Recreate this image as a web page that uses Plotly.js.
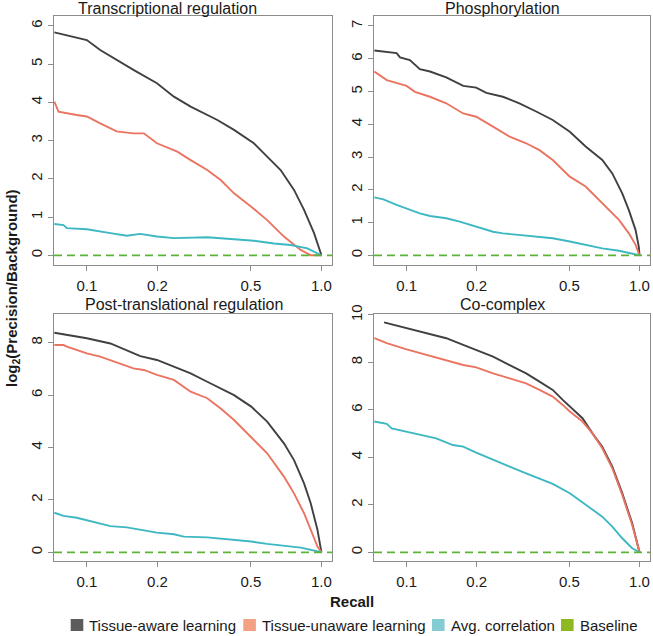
<!DOCTYPE html>
<html>
<head>
<meta charset="utf-8">
<script src="https://cdn.plot.ly/plotly-3.0.1.min.js"></script>
<style>html,body{margin:0;padding:0;background:#fff;}#chart{width:653px;height:636px;}</style>
</head>
<body>
<div id="chart"></div>
<script>
// ---------- DATA ----------
const panelTitles = ["Transcriptional regulation", "Phosphorylation", "Post-translational regulation", "Co-complex"];
const seriesNames = ["Tissue-aware learning", "Tissue-unaware learning", "Avg. correlation", "Baseline"];
const xTickVals = [0.1, 0.2, 0.5, 1];
const xTickText = ["0.1", "0.2", "0.5", "1.0"];
const baselineValue = 0;

// Transcriptional regulation
const trAwareX   = [0.0727,0.1,0.114,0.134,0.158,0.199,0.235,0.277,0.360,0.424,0.515,0.587,0.670,0.764,0.843,0.930,1.0];
const trAwareY   = [5.83,5.63,5.37,5.11,4.85,4.50,4.15,3.89,3.54,3.28,2.93,2.58,2.23,1.71,1.19,0.58,0];
const trUnawareX = [0.0727,0.0757,0.0906,0.1,0.114,0.134,0.158,0.175,0.199,0.243,0.277,0.326,0.372,0.424,0.502,0.587,0.692,0.816,0.900,1.0];
const trUnawareY = [4.02,3.76,3.67,3.63,3.45,3.24,3.19,3.19,2.93,2.71,2.49,2.23,1.97,1.62,1.27,0.92,0.49,0.14,0,0];
const trCorrX    = [0.0727,0.0795,0.0822,0.1,0.126,0.148,0.169,0.199,0.235,0.286,0.326,0.424,0.515,0.628,0.739,0.871,1.0];
const trCorrY    = [0.82,0.79,0.71,0.68,0.58,0.51,0.56,0.49,0.45,0.47,0.47,0.42,0.38,0.31,0.27,0.18,0];

// Phosphorylation
const phAwareX   = [0.0727,0.0906,0.0937,0.1033,0.114,0.126,0.148,0.175,0.199,0.220,0.259,0.305,0.360,0.424,0.502,0.587,0.692,0.764,0.843,0.900,0.962,0.993,1.0];
const phAwareY   = [6.25,6.17,6.04,5.96,5.68,5.61,5.43,5.17,5.12,4.96,4.84,4.64,4.39,4.13,3.77,3.32,2.91,2.50,1.89,1.38,0.77,0.26,0];
const phUnawareX = [0.0727,0.0822,0.1,0.1086,0.126,0.148,0.175,0.199,0.235,0.277,0.326,0.372,0.424,0.502,0.587,0.692,0.816,0.900,0.962,1.0];
const phUnawareY = [5.61,5.35,5.17,4.99,4.84,4.64,4.33,4.23,3.93,3.62,3.42,3.21,2.91,2.40,2.10,1.59,1.08,0.67,0.32,0];
const phCorrX    = [0.0727,0.0795,0.0906,0.1,0.114,0.126,0.148,0.169,0.199,0.235,0.259,0.305,0.360,0.424,0.502,0.587,0.692,0.816,1.0];
const phCorrY    = [1.77,1.71,1.54,1.43,1.28,1.20,1.13,1.03,0.87,0.72,0.67,0.62,0.57,0.52,0.42,0.32,0.21,0.14,0];

// Post-translational regulation
const ptAwareX   = [0.0727,0.0822,0.1,0.126,0.148,0.169,0.199,0.235,0.277,0.326,0.372,0.424,0.502,0.587,0.692,0.764,0.843,0.900,0.962,1.0];
const ptAwareY   = [8.38,8.29,8.17,7.97,7.72,7.49,7.34,7.08,6.83,6.51,6.26,6.00,5.56,4.99,4.16,3.52,2.63,1.87,0.85,0];
const ptUnawareX = [0.0727,0.0795,0.0822,0.1,0.114,0.134,0.158,0.175,0.199,0.235,0.277,0.326,0.372,0.424,0.502,0.587,0.692,0.764,0.843,0.900,0.962,1.0];
const ptUnawareY = [7.91,7.91,7.85,7.59,7.47,7.24,7.02,6.96,6.77,6.58,6.13,5.88,5.49,5.05,4.41,3.78,2.89,2.25,1.49,0.85,0.22,0];
const ptCorrX    = [0.0727,0.0795,0.0906,0.1,0.114,0.126,0.148,0.175,0.199,0.235,0.259,0.326,0.424,0.502,0.587,0.692,0.816,1.0];
const ptCorrY    = [1.51,1.39,1.32,1.23,1.11,1.00,0.95,0.83,0.75,0.69,0.60,0.57,0.47,0.41,0.32,0.24,0.18,0];

// Co-complex
const ccAwareX   = [0.080,0.1,0.126,0.148,0.175,0.199,0.235,0.277,0.326,0.372,0.424,0.468,0.502,0.569,0.628,0.692,0.764,0.843,0.930,1.0];
const ccAwareY   = [9.69,9.44,9.20,9.02,8.74,8.53,8.24,7.89,7.54,7.19,6.84,6.42,6.14,5.65,5.01,4.45,3.61,2.49,1.22,0];
const ccUnawareX = [0.0727,0.0822,0.1,0.126,0.148,0.175,0.199,0.235,0.277,0.326,0.372,0.424,0.468,0.502,0.569,0.628,0.692,0.764,0.843,0.930,1.0];
const ccUnawareY = [9.02,8.81,8.55,8.27,8.10,7.89,7.79,7.54,7.33,7.12,6.84,6.56,6.21,5.93,5.51,5.01,4.38,3.54,2.42,1.15,0];
const ccCorrX    = [0.0727,0.0822,0.0863,0.1,0.114,0.134,0.158,0.175,0.199,0.235,0.277,0.326,0.372,0.424,0.502,0.587,0.692,0.764,0.843,0.930,1.0];
const ccCorrY    = [5.51,5.41,5.22,5.08,4.94,4.80,4.52,4.45,4.20,3.92,3.61,3.33,3.12,2.88,2.49,1.99,1.50,1.08,0.59,0.17,0];

// ---------- STYLE ----------
const lineColors = ["#404040", "#EB7461", "#3DB8C2", "#5DB338"];
const swatchColors = ["#5c5c5c", "#F4A183", "#84CBD3", "#8DB81F"];
const FONT = "'Liberation Sans', Arial, Helvetica, sans-serif";
const frameColor = "#8c8c8c";

const panels = [
  {x:[trAwareX,trUnawareX,trCorrX], y:[trAwareY,trUnawareY,trCorrY], yr:[-0.254,6.26], dt:1},
  {x:[phAwareX,phUnawareX,phCorrX], y:[phAwareY,phUnawareY,phCorrY], yr:[-0.296,7.305], dt:1},
  {x:[ptAwareX,ptUnawareX,ptCorrX], y:[ptAwareY,ptUnawareY,ptCorrY], yr:[-0.332,9.095], dt:2},
  {x:[ccAwareX,ccUnawareX,ccCorrX], y:[ccAwareY,ccUnawareY,ccCorrY], yr:[-0.367,10.04], dt:2}
];
const W = 653, H = 636;
const xDom = [[54/W, 332/W], [374/W, 650/W]];
const yDom = [[1-265/H, 1-16/H], [1-561/H, 1-314/H]];

const traces = [];
const layout = {
  width: W, height: H,
  margin: {l:0, r:0, t:0, b:0},
  paper_bgcolor: "#fff", plot_bgcolor: "#fff",
  showlegend: false,
  font: {family: FONT, color: "#1a1a1a"},
  shapes: [], annotations: []
};

panels.forEach((p, i) => {
  const n = i === 0 ? "" : String(i + 1);
  const xa = "x" + n, ya = "y" + n;
  for (let s = 0; s < 3; s++) {
    traces.push({
      type: "scatter", mode: "lines", x: p.x[s], y: p.y[s],
      xaxis: xa, yaxis: ya, name: seriesNames[s],
      line: {color: lineColors[s], width: 1.9}, hoverinfo: "skip"
    });
  }
  const col = i % 2, row = Math.floor(i / 2);
  const common = {
    showline: true, mirror: true, linecolor: frameColor, linewidth: 1,
    ticks: "outside", ticklen: 5, tickcolor: frameColor, tickwidth: 1,
    showgrid: false, zeroline: false,
    tickfont: {size: 15, color: "#1a1a1a", family: FONT}
  };
  layout["xaxis" + n] = Object.assign({}, common, {
    type: "log", range: [-1.14, 0.045], domain: xDom[col], anchor: ya,
    tickmode: "array", tickvals: xTickVals, ticktext: xTickText,
    ticklabelstandoff: 2
  });
  const yt = [];
  for (let v = 0; v <= p.yr[1]; v += p.dt) yt.push(v);
  layout["yaxis" + n] = Object.assign({}, common, {
    range: p.yr, domain: yDom[row], anchor: xa,
    tickmode: "array", tickvals: yt, ticktext: yt.map(String), tickangle: -90
  });
  layout.shapes.push({
    type: "line", xref: xa + " domain", x0: 0, x1: 1, yref: ya, y0: baselineValue, y1: baselineValue,
    line: {color: lineColors[3], width: 1.8, dash: "8px,5px"}
  });
});

// panel titles
const titlePos = [[167, 8.5], [502.5, 8.5], [183.5, 304], [502.5, 304]];
panelTitles.forEach((t, i) => {
  layout.annotations.push({
    text: t, xref: "paper", yref: "paper", x: titlePos[i][0]/W, y: 1 - titlePos[i][1]/H,
    xanchor: "center", yanchor: "middle", showarrow: false,
    font: {size: 16, family: FONT, color: "#1a1a1a"}
  });
});
// axis titles
layout.annotations.push({
  text: "<b>Recall</b>", xref: "paper", yref: "paper", x: 352/W, y: 1 - 601/H,
  xanchor: "center", yanchor: "middle", showarrow: false, font: {size: 15, family: FONT, color: "#1a1a1a"}
});
layout.annotations.push({
  text: "<b>log<sub>2</sub>(Precision/Background)</b>", xref: "paper", yref: "paper", x: 12.5/W, y: 1 - 288.5/H,
  xanchor: "center", yanchor: "middle", textangle: -90, showarrow: false,
  font: {size: 15, family: FONT, color: "#1a1a1a"}
});
// legend (swatches + labels)
const legSwatchX = [70.7, 243.3, 432, 561];
const legTextX = [86.7, 260, 449, 578];
for (let k = 0; k < 4; k++) {
  layout.shapes.push({
    type: "rect", xref: "paper", yref: "paper",
    x0: legSwatchX[k]/W, x1: (legSwatchX[k] + 12.6)/W, y0: 1 - 631/H, y1: 1 - 619/H,
    fillcolor: swatchColors[k], line: {width: 0}
  });
  layout.annotations.push({
    text: seriesNames[k], xref: "paper", yref: "paper", x: legTextX[k]/W, y: 1 - 625/H,
    xanchor: "left", yanchor: "middle", showarrow: false,
    font: {size: 15, family: FONT, color: "#1a1a1a"}
  });
}

Plotly.newPlot("chart", traces, layout, {staticPlot: true, displayModeBar: false});
</script>
</body>
</html>
